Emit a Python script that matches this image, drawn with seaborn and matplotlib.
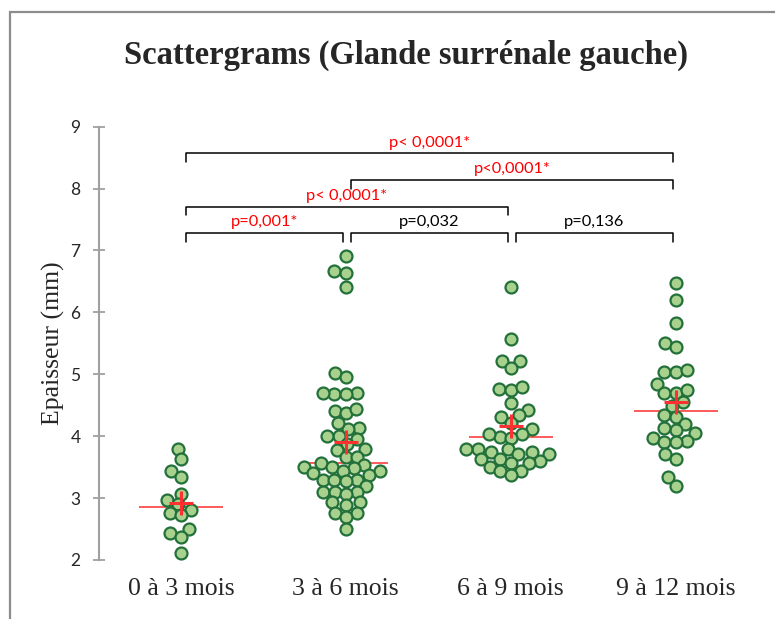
import types
import numpy as np
import pandas as pd
import matplotlib
matplotlib.use("Agg")
import matplotlib.pyplot as plt
from matplotlib.collections import PathCollection
from matplotlib.patches import Rectangle
import seaborn as sns

# Thickness of the left adrenal gland (mm) per age group
categories = ["0 à 3 mois", "3 à 6 mois", "6 à 9 mois", "9 à 12 mois"]

g_0_3 = [3.80, 3.63, 3.44, 3.34, 3.07, 2.97, 2.90, 2.81, 2.76, 2.73, 2.43, 2.50,
         2.37, 2.11]
g_3_6 = [6.91, 6.67, 6.64, 6.41, 5.02, 4.96, 4.68, 4.70, 4.70, 4.68, 4.41, 4.37,
         4.44, 4.14, 4.11, 4.21, 4.00, 4.00, 3.95, 3.87, 3.80, 3.78, 3.67, 3.67,
         3.56, 3.53, 3.44, 3.48, 3.50, 3.50, 3.44, 3.40, 3.30, 3.30, 3.37, 3.30,
         3.27, 3.20, 3.10, 3.10, 3.10, 3.07, 2.93, 2.93, 2.89, 2.76, 2.76, 2.70,
         2.50]
g_6_9 = [6.41, 5.57, 5.21, 5.21, 5.10, 4.77, 4.74, 4.80, 4.54, 4.43, 4.34, 4.31,
         4.21, 4.11, 4.04, 3.99, 3.97, 4.04, 3.80, 3.80, 3.74, 3.80, 3.71, 3.74,
         3.71, 3.63, 3.63, 3.57, 3.60, 3.57, 3.51, 3.44, 3.44, 3.37]
g_9_12 = [6.47, 6.20, 5.83, 5.51, 5.44, 5.03, 5.03, 5.07, 4.84, 4.70, 4.70, 4.74,
          4.56, 4.48, 4.34, 4.31, 4.20, 4.10, 4.14, 4.05, 3.97, 3.93, 3.90, 3.90,
          3.71, 3.63, 3.34, 3.20]
groups = [g_0_3, g_3_6, g_6_9, g_9_12]

# Pairwise comparisons: (group a, group b, p-value text, significant)
comparisons = [
    (0, 1, "p=0,001*", True),
    (1, 2, "p=0,032", False),
    (2, 3, "p=0,136", False),
    (0, 2, "p< 0,0001*", True),
    (1, 3, "p<0,0001*", True),
    (0, 3, "p< 0,0001*", True),
]
bracket_level = [0, 0, 0, 1, 2, 3]

yticks = [2, 3, 4, 5, 6, 7, 8, 9]

sns.set_style("white")
plt.rcParams["font.family"] = ["Lato", "DejaVu Sans"]

df = pd.DataFrame({
    "groupe": np.repeat(categories, [len(g) for g in groups]),
    "epaisseur": np.concatenate(groups),
})

W, H = 775, 619
fig = plt.figure(figsize=(W / 100, H / 100), dpi=100)
ax = fig.add_axes([98.5 / W, 1 - 560 / H, (758 - 98.5) / W, (560 - 126.7) / H])

# Swarm laid out with a tight spacing so neighbouring dots overlap a little
sns.swarmplot(data=df, x="groupe", y="epaisseur", order=categories, ax=ax,
              color="#a9d18e", edgecolor="#22703a", linewidth=1.6, size=6.3,
              zorder=3, clip_on=False)
ax.set_xlim(-0.5, 3.5)
ax.set_ylim(2, 9)
fig.canvas.draw()
dot_size = 8.6
for coll in ax.collections:
    if isinstance(coll, PathCollection):
        coll.draw = types.MethodType(PathCollection.draw, coll)
        coll.set_sizes([dot_size ** 2])

# Median (line) and mean (cross) for each group
for i, g in enumerate(groups):
    vals = np.asarray(g)
    ax.hlines(np.median(vals), i - 0.255, i + 0.255, color="#ff5a5a", lw=1.4,
              zorder=2)
    ax.plot(i, vals.mean(), marker="+", ms=17, mew=2.2, color="#ff3030",
            zorder=5, clip_on=False)

# Significance brackets
base, step, drop = 7.28, 0.43, 0.14
for (a, b, label, sig), lvl in zip(comparisons, bracket_level):
    y = base + step * lvl
    x0, x1 = a + 0.03, b - 0.015
    ax.plot([x0, x0, x1, x1], [y - drop, y, y, y - drop], color="black",
            lw=1.1, clip_on=False, zorder=4)
    ax.text((x0 + x1) / 2, y + 0.06, label, ha="center", va="bottom",
            fontsize=11.8, color="red" if sig else "black",
            family=["Lato", "DejaVu Sans"])

ax.set_yticks(yticks)
ax.set_yticklabels([str(t) for t in yticks], fontsize=12.5)
ax.set_xlabel("")
ax.set_ylabel("Epaisseur (mm)", family="Liberation Serif", fontsize=18.5,
              labelpad=4)
for lab in ax.get_xticklabels():
    lab.set_fontfamily("Liberation Serif")
    lab.set_fontsize(18.5)
ax.tick_params(axis="x", length=0, pad=13)
ax.tick_params(axis="y", direction="inout", length=8, width=1.3,
               color="#a0a0a0", pad=9, left=True)
for side in ["top", "right", "bottom"]:
    ax.spines[side].set_visible(False)
ax.spines["left"].set_color("#a0a0a0")
ax.spines["left"].set_linewidth(1.5)

fig.text(406 / W, 1 - 64 / H, "Scattergrams (Glande surrénale gauche)",
         ha="center", va="baseline", family="Liberation Serif",
         fontweight="bold", fontsize=23.5)

# Chart frame
fig.add_artist(Rectangle((10 / W, -0.1), 1.2, 1 - 12 / H + 0.1,
                         transform=fig.transFigure, fill=False,
                         edgecolor="#8c8c8c", lw=1.6))

fig.savefig("out.png", dpi=100)
